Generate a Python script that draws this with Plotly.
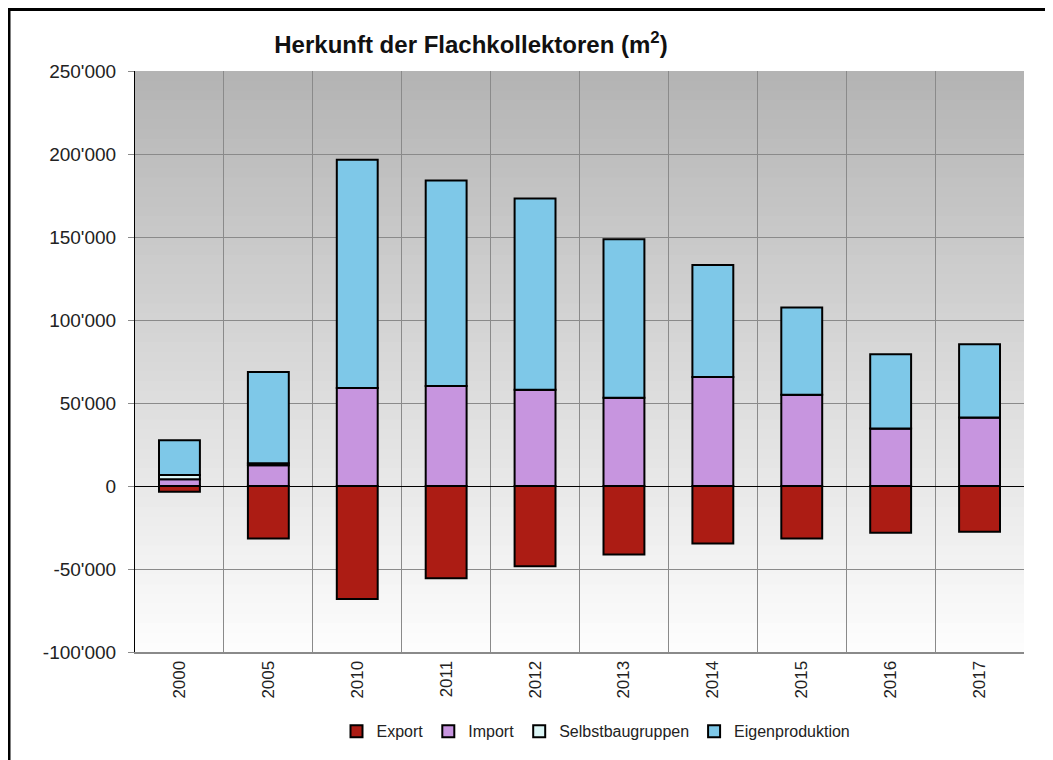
import plotly.graph_objects as go

years = ["2000", "2005", "2010", "2011", "2012", "2013", "2014", "2015", "2016", "2017"]
export = [-3500, -31700, -68000, -55500, -48400, -41200, -34600, -31700, -28100, -27500]
imports = [4000, 12500, 59100, 60300, 58000, 53200, 65700, 55000, 34600, 41200]
selbstbau = [2700, 1200, 0, 0, 0, 0, 0, 0, 0, 0]
eigen = [20800, 55000, 137400, 123700, 115200, 95500, 67500, 52500, 44800, 44200]

y_tickvals = [-100000, -50000, 0, 50000, 100000, 150000, 200000, 250000]
y_ticktext = ["-100'000", "-50'000", "0", "50'000", "100'000", "150'000", "200'000", "250'000"]

OFF = 8  # page body margin
W, H = 1053 - OFF, 760 - OFF
L, T = 135 - OFF, 71 - OFF
R = W - (1024 - OFF)
B = H - (657 - OFF)
pw, ph = W - L - R, H - T - B

def px2x(px):
    return (px - OFF - L) / pw
def py2y(py):
    return (H + OFF - B - py) / ph

fig = go.Figure()
series = [
    ("Export", export, "#ac1c14"),
    ("Import", imports, "#c795df"),
    ("Selbstbaugruppen", selbstbau, "#dcf6f6"),
    ("Eigenproduktion", eigen, "#7ec8e8"),
]
for name, vals, col in series:
    fig.add_trace(go.Bar(
        x=years, y=vals, name=name,
        marker=dict(color=col, line=dict(color="black", width=2)),
    ))

shapes = []
n = 60
for i in range(n):
    frac = i / (n - 1)  # 0 bottom, 1 top
    v = int(round(253 - (253 - 180) * frac))
    shapes.append(dict(type="rect", xref="paper", yref="paper", x0=0, x1=1, y0=i / n, y1=1,
                       fillcolor=f"rgb({v},{v},{v})", line=dict(width=0), layer="below"))
# outer border
shapes.append(dict(type="rect", xref="paper", yref="paper",
                   x0=px2x(9), x1=px2x(1075), y0=py2y(785), y1=py2y(9),
                   line=dict(color="black", width=3), fillcolor="rgba(0,0,0,0)", layer="above"))

fig.update_layout(
    width=W, height=H,
    margin=dict(l=L, r=R, t=T, b=B),
    paper_bgcolor="white",
    plot_bgcolor="rgba(0,0,0,0)",
    barmode="relative",
    bargap=0.54,
    font=dict(family="Liberation Sans, Arial, sans-serif", color="#222222", size=16),
    title=dict(text="<b>Herkunft der Flachkollektoren (m<sup>2</sup>)</b>",
               x=(471 - OFF) / W, xanchor="center",
               y=1 - (45 - OFF) / H, yanchor="middle",
               font=dict(size=24, color="#111111")),
    shapes=shapes,
    showlegend=True,
    legend=dict(orientation="h", x=px2x(596), xanchor="center", xref="paper",
                y=py2y(737), yanchor="middle", font=dict(size=16),
                traceorder="normal", bgcolor="rgba(0,0,0,0)"),
    xaxis=dict(
        type="category", tickangle=-90, tickson="boundaries",
        showgrid=True, gridcolor="#8a8a8a", gridwidth=1,
        showline=True, linecolor="#8a8a8a", linewidth=2,
        ticks="", tickfont=dict(size=17), mirror=False,
    ),
    yaxis=dict(
        range=[-100000, 250000], tickvals=y_tickvals, ticktext=y_ticktext,
        showgrid=True, gridcolor="#8a8a8a", gridwidth=1,
        zeroline=True, zerolinecolor="black", zerolinewidth=1,
        showline=True, linecolor="black", linewidth=1,
        ticks="outside", ticklen=6, tickcolor="#8a8a8a",
        ticklabelstandoff=8,
        tickfont=dict(size=19),
    ),
)
fig.write_html("out.html")
